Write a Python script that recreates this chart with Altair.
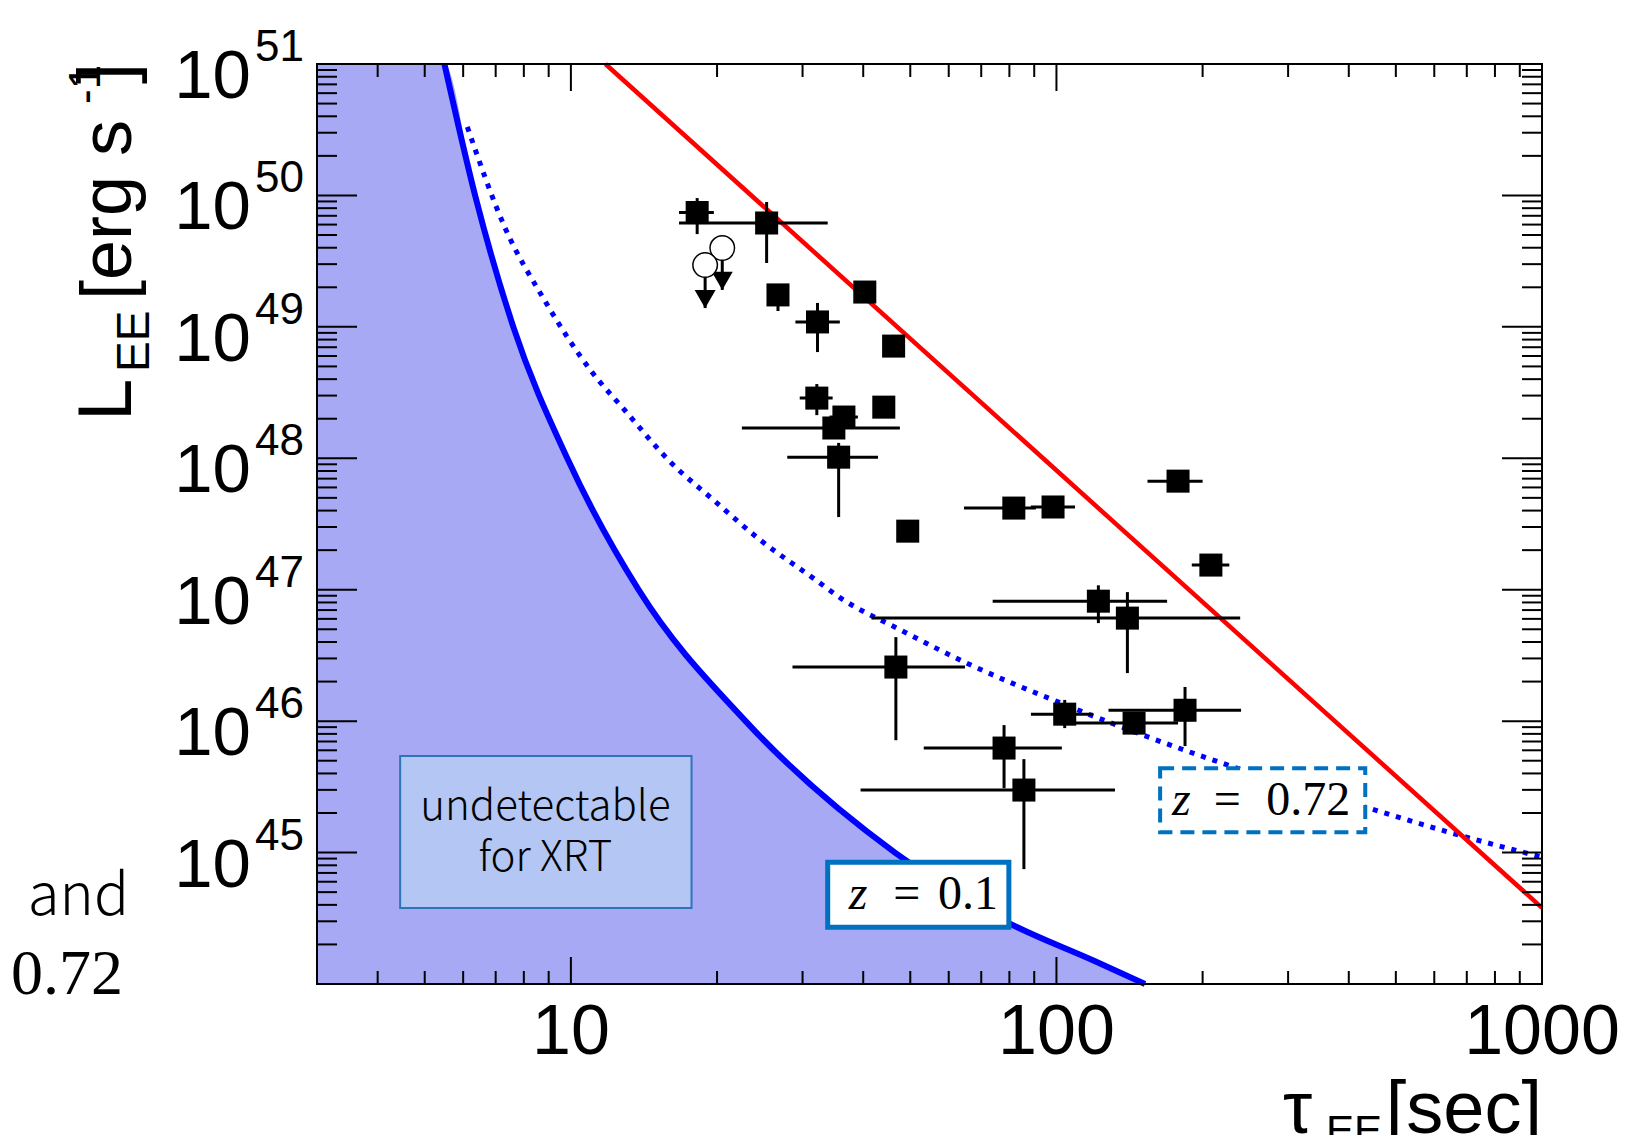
import altair as alt
import pandas as pd

W, H = 1225, 920
XS = alt.Scale(type="log", domain=[3, 1000])
YS = alt.Scale(type="log", domain=[1e44, 1e51])

# ---------------- data ----------------
tau    = [18.2, 25.3, 26.7, 40.3, 32.2, 46.2, 32.1, 44.1, 36.5, 34.8, 35.6, 49.4,
          81.7, 98.4, 178, 208, 122, 140, 46.7, 104, 144.5, 184, 78.0, 85.7]
tau_lo = [16.7, 16.7, 26.7, 40.3, 29.0, 46.2, 29.6, 44.1, 34.1, 22.5, 27.9, 49.4,
          64.5, 88.6, 154, 190, 73.9, 41.6, 28.6, 88.6, 107, 128, 53.3, 39.5]
tau_hi = [19.7, 33.8, 26.7, 40.3, 35.8, 46.2, 34.6, 44.1, 39.0, 47.6, 42.9, 49.4,
          90.7, 109.2, 200, 227, 169, 239, 64.8, 118.9, 178, 240, 102.6, 132]
lum    = [7.41e49, 6.17e49, 1.75e49, 1.84e49, 1.09e49, 7.14e48, 2.87e48, 2.45e48,
          2.06e48, 1.70e48, 1.02e48, 2.79e47, 4.18e47, 4.26e47, 6.70e47, 1.54e47,
          8.18e46, 6.08e46, 2.58e46, 1.13e46, 9.66e45, 1.21e46, 6.24e45, 2.99e45]
lum_lo = [5.08e49, 3.06e49, 1.32e49, 1.84e49, 6.43e48, 7.14e48, 2.13e48, 2.45e48,
          2.06e48, 1.41e48, 3.57e47, 2.79e47, 4.18e47, 4.26e47, 6.70e47, 1.54e47,
          5.57e46, 2.32e46, 7.16e45, 8.85e45, 7.94e45, 6.46e45, 3.09e45, 7.48e44]
lum_hi = [9.55e49, 8.91e49, 1.82e49, 1.84e49, 1.52e49, 7.14e48, 3.67e48, 2.45e48,
          2.06e48, 2.04e48, 1.31e48, 2.79e47, 4.18e47, 4.26e47, 6.70e47, 1.54e47,
          1.08e47, 9.59e46, 4.36e46, 1.45e46, 1.12e46, 1.82e46, 9.33e45, 5.14e45]

# upper limits (open circles with arrows)
ul_tau = [20.5, 18.9]
ul_lum = [3.98e49, 2.95e49]
ul_tip = [1.91e49, 1.39e49]

# z = 0.1 detection limit (solid blue) and z = 0.72 (dotted blue)
z01_tau = [5.49, 6.35, 7.61, 9.83, 13.78, 22.9, 46.5, 78.3, 119.5, 152.2]
z01_lum = [1e51, 1e50, 1e49, 1e48, 1e47, 1e46, 1e45, 3.01e44, 1.50e44, 1e44]
z072_tau = [6.12, 7.29, 8.82, 10.97, 12.95, 16.04, 19.67, 24.58, 31.6, 35.95, 47.8,
            65.4, 102.2, 156.6, 232, 439, 651, 1000]
z072_lum = [3.32e50, 5.85e49, 1.60e49, 4.69e48, 2.29e48, 9.35e47, 4.81e47, 2.38e47,
            1.22e47, 8.63e46, 4.93e46, 2.76e46, 1.37e46, 7.43e45, 4.47e45, 2.18e45,
            1.41e45, 9.23e44]
# red line
red_tau = [11.78, 1000]
red_lum = [1e51, 3.80e44]

# axis ticks
x_major = [10, 100, 1000]
x_minor = [3, 4, 5, 6, 7, 8, 9, 20, 30, 40, 50, 60, 70, 80, 90,
           200, 300, 400, 500, 600, 700, 800, 900]
y_major_exp = [44, 45, 46, 47, 48, 49, 50, 51]
y_label_exp = ["45", "46", "47", "48", "49", "50", "51"]
y_minor_mant = [2, 3, 4, 5, 6, 7, 8, 9]

# annotation boxes
und_box = {"t1": 4.45, "t2": 17.72, "l1": 5.42e45, "l2": 3.78e44}
z01_box = {"t1": 33.8, "t2": 79.8, "l1": 8.45e44, "l2": 2.70e44}
z072_box = {"t1": 163.5, "t2": 432.5, "l1": 4.39e45, "l2": 1.43e45}

# ---------------- frames ----------------
pts = pd.DataFrame({"tau": tau, "tau_lo": tau_lo, "tau_hi": tau_hi,
                    "lum": lum, "lum_lo": lum_lo, "lum_hi": lum_hi})
ul = pd.DataFrame({"tau": ul_tau, "lum": ul_lum, "tip": ul_tip})
z01 = pd.DataFrame({"tau": z01_tau, "lum": z01_lum})
z01_area = pd.DataFrame({"tau": [3] + z01_tau, "lum": [1e51] + z01_lum,
                         "base": [1e44] * (len(z01_tau) + 1)})
z072 = pd.DataFrame({"tau": z072_tau, "lum": z072_lum})
red = pd.DataFrame({"tau": red_tau, "lum": red_lum})
ONE = pd.DataFrame({"a": [0]})

X = lambda f="tau": alt.X(f"{f}:Q", scale=XS, axis=None)
Y = lambda f="lum": alt.Y(f"{f}:Q", scale=YS, axis=None)

layers = []

# shaded undetectable region
layers.append(alt.Chart(z01_area).mark_area(color="#a7a9f4", opacity=1, interpolate="monotone",
                                            orient="vertical").encode(
    x=X(), y=Y(), y2="base:Q"))

# undetectable box
def box(b, **kw):
    d = pd.DataFrame({"t1": [b["t1"]], "t2": [b["t2"]], "l1": [b["l1"]], "l2": [b["l2"]]})
    return alt.Chart(d).mark_rect(**kw).encode(
        x=X("t1"), x2="t2", y=Y("l1"), y2="l2")

layers.append(box(und_box, fill="#bcd5f2", fillOpacity=0.65, stroke="#2e75b6", strokeWidth=2))

# curves
layers.append(alt.Chart(z072).mark_line(color="#0000ff", strokeWidth=5, strokeDash=[5, 7],
                                        interpolate="monotone").encode(x=X(), y=Y()))
layers.append(alt.Chart(z01).mark_line(color="#0000ff", strokeWidth=6,
                                       interpolate="monotone").encode(x=X(), y=Y()))
layers.append(alt.Chart(red).mark_line(color="#ff0000", strokeWidth=4.5).encode(x=X(), y=Y()))

# z boxes
layers.append(box(z01_box, fill="white", stroke="#0070c0", strokeWidth=5))
layers.append(box(z072_box, fill="white", stroke="#0070c0", strokeWidth=4, strokeDash=[14, 8]))

# error bars
layers.append(alt.Chart(pts).mark_rule(color="black", strokeWidth=3).encode(
    x=X("tau_lo"), x2="tau_hi", y=Y()))
layers.append(alt.Chart(pts).mark_rule(color="black", strokeWidth=3).encode(
    x=X(), y=Y("lum_lo"), y2="lum_hi"))
layers.append(alt.Chart(pts).mark_point(shape="square", filled=True, color="black",
                                        size=530, opacity=1).encode(x=X(), y=Y()))

# upper limits
layers.append(alt.Chart(ul).mark_rule(color="black", strokeWidth=3).encode(
    x=X(), y=Y(), y2="tip"))
layers.append(alt.Chart(ul).mark_point(shape="triangle-down", filled=True, color="black",
                                       size=440, opacity=1, yOffset=-9).encode(x=X(), y=Y("tip")))
layers.append(alt.Chart(ul).mark_point(shape="circle", filled=True, fill="white", stroke="black",
                                       strokeWidth=1.5, size=600, opacity=1).encode(x=X(), y=Y()))

# ticks (inward, ROOT style)
xt_maj = pd.DataFrame({"v": x_major})
xt_min = pd.DataFrame({"v": x_minor})
yt_maj = pd.DataFrame({"v": [10.0 ** e for e in y_major_exp]})
yt_min = pd.DataFrame({"v": [m * 10.0 ** e for e in y_major_exp[:-1] for m in y_minor_mant]})

def xticks(df, ln):
    b = alt.Chart(df).mark_rule(color="black", strokeWidth=2).encode(
        x=X("v"), y=alt.value(H), y2=alt.value(H - ln))
    t = alt.Chart(df).mark_rule(color="black", strokeWidth=2).encode(
        x=X("v"), y=alt.value(0), y2=alt.value(ln))
    return [b, t]

def yticks(df, ln):
    l = alt.Chart(df).mark_rule(color="black", strokeWidth=2).encode(
        y=Y("v"), x=alt.value(0), x2=alt.value(ln))
    r = alt.Chart(df).mark_rule(color="black", strokeWidth=2).encode(
        y=Y("v"), x=alt.value(W), x2=alt.value(W - ln))
    return [l, r]

layers += xticks(xt_min, 13) + xticks(xt_maj, 27) + yticks(yt_min, 20) + yticks(yt_maj, 40)

# frame
layers.append(alt.Chart(ONE).mark_rect(fillOpacity=0, stroke="black", strokeWidth=2).encode(
    x=alt.value(0), x2=alt.value(W), y=alt.value(0), y2=alt.value(H)))

# tick labels
ylab = pd.DataFrame({"v": [10.0 ** int(e) for e in y_label_exp], "e": y_label_exp})
layers.append(alt.Chart(ylab).mark_text(text="10", font="Liberation Sans", fontSize=69,
                                        align="right", baseline="alphabetic", dy=34,
                                        color="black").encode(y=Y("v"), x=alt.value(-66)))
layers.append(alt.Chart(ylab).mark_text(font="Liberation Sans", fontSize=44,
                                        align="right", baseline="alphabetic", dy=-3,
                                        color="black").encode(y=Y("v"), x=alt.value(-13), text="e:N"))
xlab = pd.DataFrame({"v": x_major, "s": [str(v) for v in x_major]})
layers.append(alt.Chart(xlab).mark_text(font="Liberation Sans", fontSize=70, align="center",
                                        baseline="alphabetic", color="black").encode(
    x=X("v"), y=alt.value(990), text="s:N"))

# text helpers
def txt(s, x, y, size, font="Liberation Sans", angle=0, align="left", style="normal", weight="normal"):
    return alt.Chart(ONE).mark_text(text=s, fontSize=size, font=font, angle=angle, align=align,
                                    baseline="alphabetic", fontStyle=style, fontWeight=weight,
                                    color="black").encode(x=alt.value(x), y=alt.value(y))

def dtxt(s, t, l, size, font, align="left", style="normal", weight="normal"):
    d = pd.DataFrame({"tau": [t], "lum": [l]})
    return alt.Chart(d).mark_text(text=s, fontSize=size, font=font, align=align,
                                  baseline="alphabetic", fontStyle=style, fontWeight=weight,
                                  color="black").encode(x=X(), y=Y())

# axis titles
layers += [
    txt("L", -186, 357, 76, angle=270),
    txt("EE", -168, 308, 46, angle=270),
    txt("[erg s", -186, 236, 72, angle=270),
    txt("-1", -217, 40, 44, angle=270),
    txt("]", -186, 20, 76, angle=270),
    txt("τ", 966, 1069, 74),
    txt("EE", 1009, 1081, 42),
    txt("[sec]", 1225, 1069, 74, align="right"),
]

# annotations
layers += [
    dtxt("undetectable", 8.86, 1.77e45, 42, "Noto Sans CJK JP", align="center", weight=300),
    dtxt("for XRT", 8.86, 7.21e44, 42, "Noto Sans CJK JP", align="center", weight=300),
    dtxt("z", 37.35, 3.71e44, 48, "Liberation Serif", style="italic"),
    dtxt("=", 49.2, 3.71e44, 48, "Liberation Serif", align="center"),
    dtxt("0.1", 57.0, 3.71e44, 48, "Liberation Serif"),
    dtxt("z", 173, 1.93e45, 48, "Liberation Serif", style="italic"),
    dtxt("=", 224.7, 1.93e45, 48, "Liberation Serif", align="center"),
    dtxt("0.72", 270.4, 1.93e45, 48, "Liberation Serif"),
    txt("and", -188, 851, 58, font="Noto Sans CJK JP", align="right", weight=300),
    txt("0.72", -306, 930, 64, font="Liberation Serif"),
]

chart = alt.layer(*layers).properties(
    width=W, height=H,
    padding={"left": 309, "top": 56, "right": 92, "bottom": 151},
    autosize=alt.AutoSizeParams(type="none"),
    background="white",
).configure_view(stroke=None)

chart.save("out.html", embed_options={"renderer": "svg", "actions": False})
